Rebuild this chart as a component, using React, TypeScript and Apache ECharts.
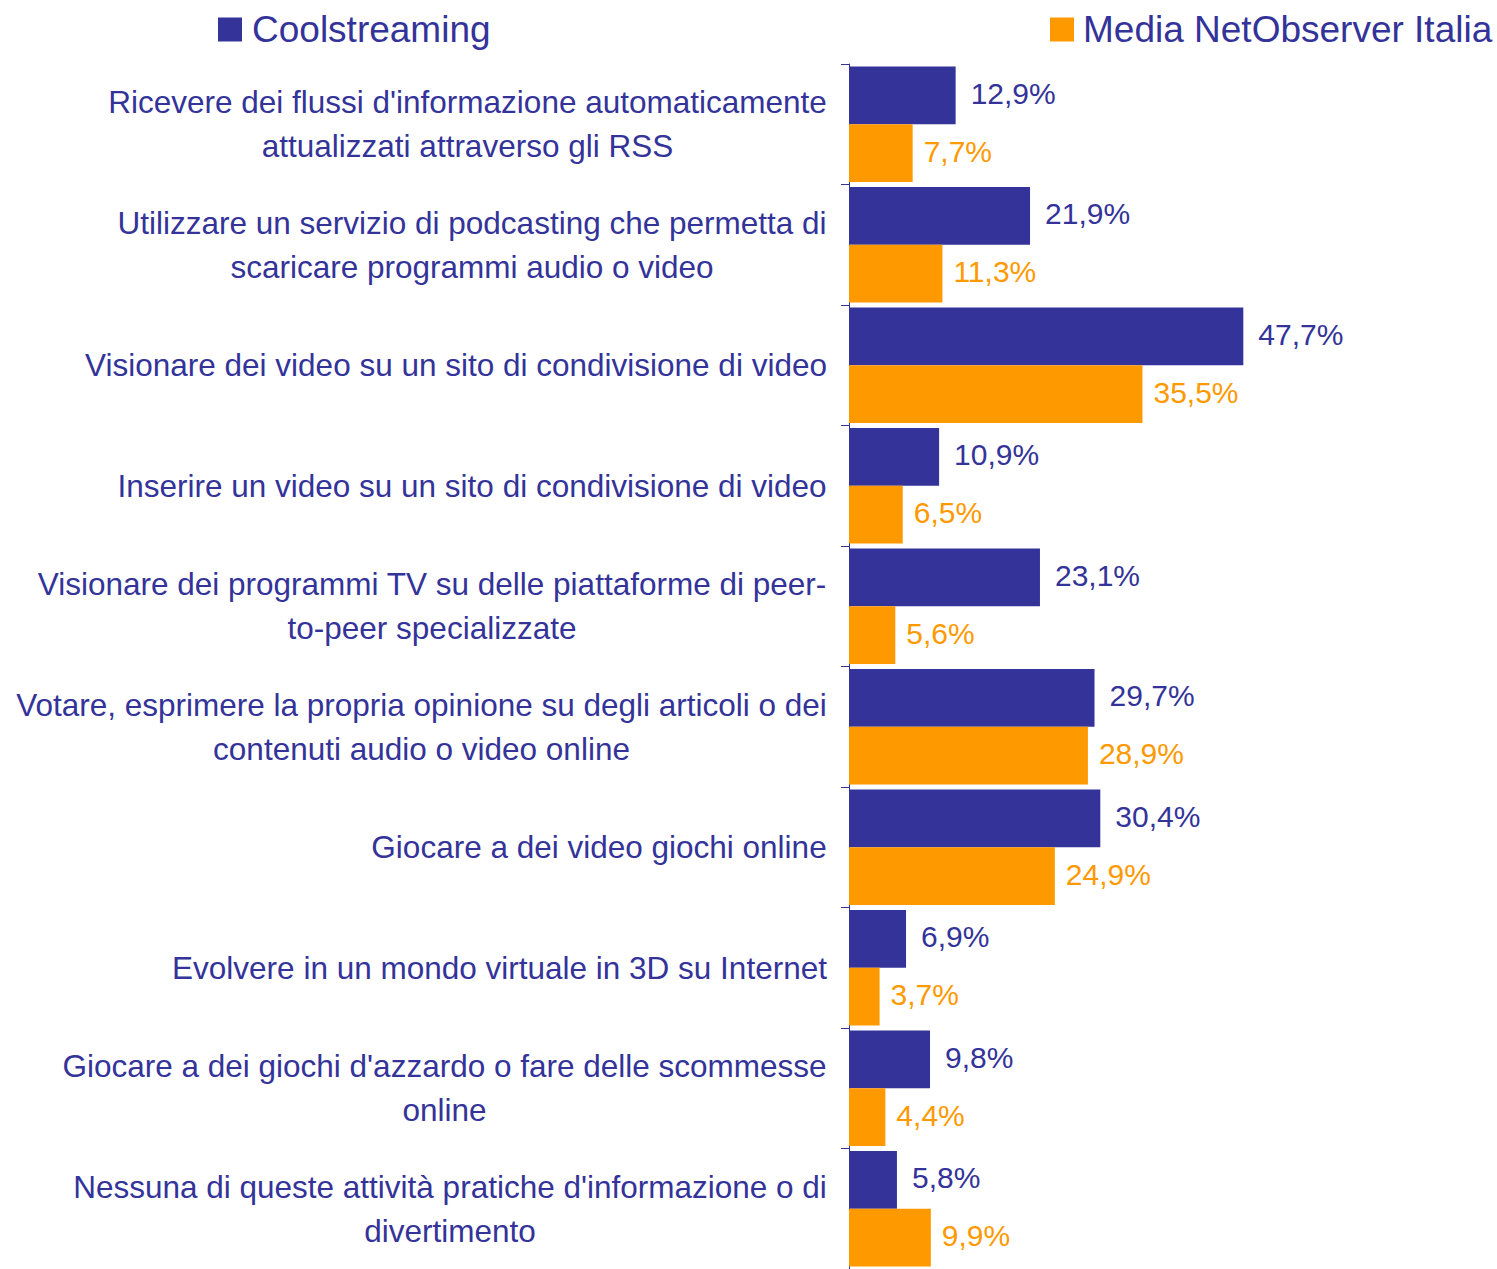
import React, { useEffect, useRef } from "react";
import * as echarts from "echarts";

const categories = [
  "Ricevere dei flussi d'informazione automaticamente\nattualizzati attraverso gli RSS",
  "Utilizzare un servizio di podcasting che permetta di\nscaricare programmi audio o video",
  "Visionare dei video su un sito di condivisione di video",
  "Inserire un video su un sito di condivisione di video",
  "Visionare dei programmi TV su delle piattaforme di peer-\nto-peer specializzate",
  "Votare, esprimere la propria opinione su degli articoli o dei\ncontenuti audio o video online",
  "Giocare a dei video giochi online",
  "Evolvere in un mondo virtuale in 3D su Internet",
  "Giocare a dei giochi d'azzardo o fare delle scommesse\nonline",
  "Nessuna di queste attività pratiche d'informazione o di\ndivertimento",
];

const coolstreaming = [12.9, 21.9, 47.7, 10.9, 23.1, 29.7, 30.4, 6.9, 9.8, 5.8];
const mediaNetObserver = [7.7, 11.3, 35.5, 6.5, 5.6, 28.9, 24.9, 3.7, 4.4, 9.9];

const seriesNames = ["Coolstreaming", "Media NetObserver Italia"];

const NAVY = "#333399";
const ORANGE = "#FF9900";
const FONT = "'Liberation Sans', Arial, sans-serif";
const LABEL_SIZE = 31.5;

function measure(text: string, size: number): number {
  const c = document.createElement("canvas");
  const ctx = c.getContext("2d");
  if (!ctx) return text.length * size * 0.5;
  ctx.font = `${size}px ${FONT}`;
  return ctx.measureText(text).width;
}

export default function App() {
  const ref = useRef<HTMLDivElement>(null);

  useEffect(() => {
    document.body.style.margin = "0";
    if (!ref.current) return;
    const chart = echarts.init(ref.current, undefined, { renderer: "svg" });

    const rich: Record<string, any> = {};
    categories.forEach((cat, i) => {
      const lines = cat.split("\n");
      const w = Math.ceil(Math.max(...lines.map((l) => measure(l, LABEL_SIZE))));
      rich["c" + i] = {
        width: w,
        align: "center",
        fontSize: LABEL_SIZE,
        fontFamily: FONT,
        color: NAVY,
        lineHeight: 44,
      };
    });

    const fmt = (v: number) => v.toFixed(1).replace(".", ",") + "%";

    chart.setOption({
      animation: false,
      backgroundColor: "#ffffff",
      legend: [
        {
          data: [seriesNames[0]],
          left: 218,
          top: 11,
          padding: 0,
          itemWidth: 24,
          itemHeight: 24,
          icon: "rect",
          textStyle: { color: NAVY, fontSize: 37, fontFamily: FONT, padding: [0, 0, 0, 5] },
        },
        {
          data: [seriesNames[1]],
          left: 1050,
          top: 11,
          padding: 0,
          itemWidth: 24,
          itemHeight: 24,
          icon: "rect",
          textStyle: { color: NAVY, fontSize: 37, fontFamily: FONT, padding: [0, 0, 0, 4] },
        },
      ],
      grid: { left: 849, top: 64, bottom: 0, right: 152, containLabel: false },
      xAxis: {
        type: "value",
        min: 0,
        max: 60,
        show: false,
      },
      yAxis: {
        type: "category",
        data: categories,
        inverse: true,
        axisLine: { show: true, lineStyle: { color: NAVY, width: 1 } },
        axisTick: { show: true, length: 8, lineStyle: { color: NAVY } },
        axisLabel: {
          margin: 22,
          align: "right",
          formatter: (value: string, index: number) =>
            value
              .split("\n")
              .map((l) => `{c${index}|${l}}`)
              .join("\n"),
          rich,
        },
      },
      series: [
        {
          name: seriesNames[0],
          type: "bar",
          data: coolstreaming,
          barGap: "0%",
          barCategoryGap: "4%",
          itemStyle: { color: NAVY },
          label: {
            show: true,
            position: "right",
            distance: 15,
            color: NAVY,
            fontSize: 30,
            fontFamily: FONT,
            offset: [0, -2],
            formatter: (p: any) => fmt(p.value),
          },
        },
        {
          name: seriesNames[1],
          type: "bar",
          data: mediaNetObserver,
          barGap: "0%",
          barCategoryGap: "4%",
          itemStyle: { color: ORANGE },
          label: {
            show: true,
            position: "right",
            distance: 11,
            color: ORANGE,
            fontSize: 30,
            fontFamily: FONT,
            offset: [0, -2],
            formatter: (p: any) => fmt(p.value),
          },
        },
      ],
    });

    return () => chart.dispose();
  }, []);

  return <div ref={ref} style={{ width: 1497, height: 1269 }} />;
}
